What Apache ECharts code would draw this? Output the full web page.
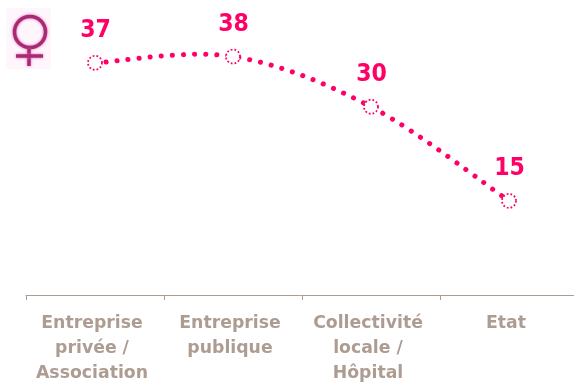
<!DOCTYPE html>
<html lang="fr">
<head>
    <meta charset="UTF-8">
    <title>Femmes par employeur</title>
    <script src="https://cdn.jsdelivr.net/npm/echarts@6/dist/echarts.min.js"></script>
    <style>
        html, body { margin: 0; padding: 0; background: #fff; overflow: hidden; }
    </style>
</head>
<body>
    <div id="main" style="width: 574px;height:382px;"></div>

    <script type="text/javascript">
        var categories = ['Entreprise\nprivée /\nAssociation', 'Entreprise\npublique', 'Collectivité\nlocale /\nHôpital', 'Etat'];
        var values = [37, 38, 30, 15];

        var pink = '#ff0066';
        var taupe = '#ad9c92';
        var symbolColor = '#a82a72';

        var myChart = echarts.init(document.getElementById('main'));

        // la courbe de ref depasse un peu le point 38, le smooth d'echarts est borne donc on trace le chemin ici
        function renderCurve(params, api) {
            if (params.dataIndex !== 0) return null;
            var pts = values.map(function (v, i) { return api.coord([i, v]); });
            var d = 'M' + pts[0][0] + ' ' + pts[0][1];
            for (var i = 0; i < pts.length - 1; i++) {
                var p0 = pts[Math.max(i - 1, 0)], p1 = pts[i], p2 = pts[i + 1], p3 = pts[Math.min(i + 2, pts.length - 1)];
                d += 'C' + (p1[0] + (p2[0] - p0[0]) / 6) + ' ' + (p1[1] + (p2[1] - p0[1]) / 6)
                    + ' ' + (p2[0] - (p3[0] - p1[0]) / 6) + ' ' + (p2[1] - (p3[1] - p1[1]) / 6)
                    + ' ' + p2[0] + ' ' + p2[1];
            }
            return {
                type: 'path',
                shape: { pathData: d },
                style: { fill: 'none', stroke: pink, lineWidth: 5, lineDash: [0.1, 11], lineCap: 'round' }
            };
        }

        var option = {
            animation: false,
            grid: { left: 26, width: 552, top: 44, height: 251, outerBoundsMode: 'none' },
            xAxis: {
                type: 'category',
                data: categories,
                boundaryGap: true,
                axisLine: { lineStyle: { color: taupe, width: 1 } },
                axisTick: { show: true, length: 5, lineStyle: { color: taupe } },
                axisLabel: {
                    color: taupe,
                    fontFamily: 'DejaVu Sans',
                    fontWeight: 'bold',
                    fontSize: 17.3,
                    lineHeight: 25,
                    margin: 16,
                    padding: [0, 6, 0, 0],
                    interval: 0
                }
            },
            yAxis: { type: 'value', min: 0, max: 40, show: false },
            series: [{
                type: 'custom',
                data: values,
                clip: false,
                silent: true,
                z: 1,
                renderItem: renderCurve
            }, {
                type: 'line',
                data: values,
                z: 2,
                symbol: 'circle',
                symbolSize: 14,
                itemStyle: { color: '#fff', borderColor: pink, borderWidth: 1.8, borderType: [1.8, 2] },
                lineStyle: { width: 0 },
                label: {
                    show: true,
                    position: 'top',
                    offset: [0.5, -7],
                    color: pink,
                    fontFamily: 'DejaVu Sans Condensed',
                    fontWeight: 'bold',
                    fontSize: 24.5
                }
            }],
            graphic: [
                { type: 'rect', shape: { x: 6, y: 8, width: 45, height: 61 }, style: { fill: '#fef6fc' } },
                { type: 'circle', shape: { cx: 30, cy: 32, r: 15.5 }, style: { fill: 'transparent', stroke: symbolColor, lineWidth: 3.5, shadowBlur: 3, shadowColor: '#e060b0' } },
                { type: 'line', shape: { x1: 29, y1: 49, x2: 29, y2: 66 }, style: { stroke: symbolColor, lineWidth: 3.5, shadowBlur: 3, shadowColor: '#e060b0' } },
                { type: 'line', shape: { x1: 16, y1: 56, x2: 43, y2: 56 }, style: { stroke: symbolColor, lineWidth: 3.5, shadowBlur: 3, shadowColor: '#e060b0' } }
            ]
        };

        myChart.setOption(option);
    </script>
</body>
</html>
